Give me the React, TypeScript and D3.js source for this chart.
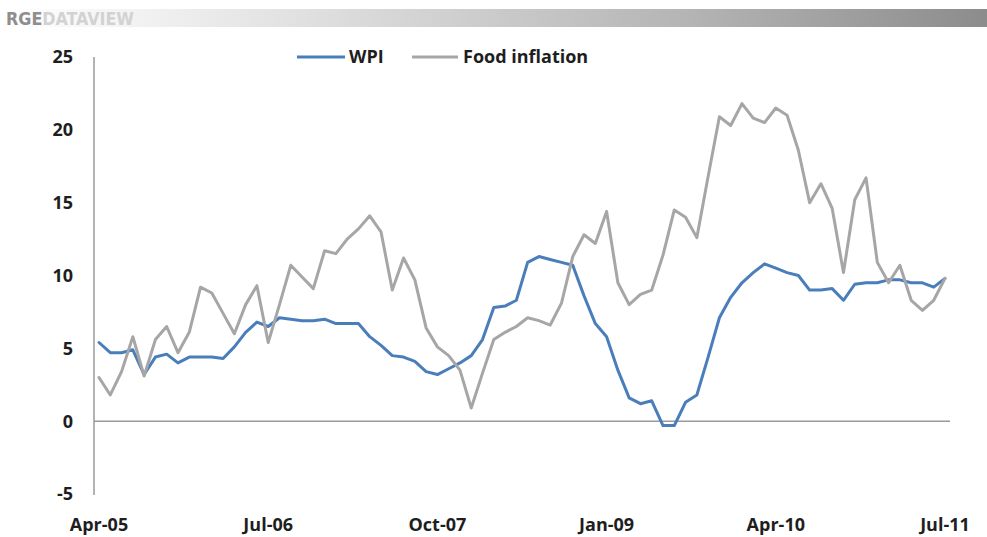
import React from "react";
import * as d3 from "d3";

const months = [
  "Apr-05","May-05","Jun-05","Jul-05","Aug-05","Sep-05","Oct-05","Nov-05","Dec-05",
  "Jan-06","Feb-06","Mar-06","Apr-06","May-06","Jun-06","Jul-06","Aug-06","Sep-06","Oct-06","Nov-06","Dec-06",
  "Jan-07","Feb-07","Mar-07","Apr-07","May-07","Jun-07","Jul-07","Aug-07","Sep-07","Oct-07","Nov-07","Dec-07",
  "Jan-08","Feb-08","Mar-08","Apr-08","May-08","Jun-08","Jul-08","Aug-08","Sep-08","Oct-08","Nov-08","Dec-08",
  "Jan-09","Feb-09","Mar-09","Apr-09","May-09","Jun-09","Jul-09","Aug-09","Sep-09","Oct-09","Nov-09","Dec-09",
  "Jan-10","Feb-10","Mar-10","Apr-10","May-10","Jun-10","Jul-10","Aug-10","Sep-10","Oct-10","Nov-10","Dec-10",
  "Jan-11","Feb-11","Mar-11","Apr-11","May-11","Jun-11","Jul-11",
];

const wpi = [
  5.4, 4.7, 4.7, 4.9, 3.2, 4.4, 4.6, 4.0, 4.4, 4.4,
  4.4, 4.3, 5.1, 6.1, 6.8, 6.5, 7.1, 7.0, 6.9, 6.9,
  7.0, 6.7, 6.7, 6.7, 5.8, 5.2, 4.5, 4.4, 4.1, 3.4,
  3.2, 3.6, 4.0, 4.5, 5.6, 7.8, 7.9, 8.3, 10.9, 11.3,
  11.1, 10.9, 10.7, 8.6, 6.7, 5.8, 3.5, 1.6, 1.2, 1.4,
  -0.3, -0.3, 1.3, 1.8, 4.4, 7.1, 8.5, 9.5, 10.2, 10.8,
  10.5, 10.2, 10.0, 9.0, 9.0, 9.1, 8.3, 9.4, 9.5, 9.5,
  9.7, 9.7, 9.5, 9.5, 9.2, 9.8,
];

const foodInflation = [
  3.0, 1.8, 3.4, 5.8, 3.1, 5.6, 6.5, 4.7, 6.1, 9.2,
  8.8, 7.4, 6.0, 8.0, 9.3, 5.4, 8.0, 10.7, 9.9, 9.1,
  11.7, 11.5, 12.5, 13.2, 14.1, 13.0, 9.0, 11.2, 9.7, 6.4,
  5.1, 4.5, 3.5, 0.9, 3.3, 5.6, 6.1, 6.5, 7.1, 6.9,
  6.6, 8.1, 11.3, 12.8, 12.2, 14.4, 9.5, 8.0, 8.7, 9.0,
  11.4, 14.5, 14.0, 12.6, 16.8, 20.9, 20.3, 21.8, 20.8, 20.5,
  21.5, 21.0, 18.6, 15.0, 16.3, 14.6, 10.2, 15.2, 16.7, 10.9,
  9.5, 10.7, 8.3, 7.6, 8.3, 9.8,
];

const yTicks = [-5, 0, 5, 10, 15, 20, 25];
const xTickLabels = ["Apr-05", "Jul-06", "Oct-07", "Jan-09", "Apr-10", "Jul-11"];

const seriesNames = ["WPI", "Food inflation"];
const seriesColors = ["#4a7ebb", "#a6a6a6"];

const W = 987;
const H = 537;
const FONT = "'Open Sans', 'DejaVu Sans', sans-serif";

export default function App() {
  const x = d3.scaleLinear().domain([0, months.length - 1]).range([99, 945]);
  const y = d3.scaleLinear().domain([-5, 25]).range([494, 57]);
  const line = d3
    .line<number>()
    .x((_, i) => x(i))
    .y((d) => y(d));

  const series = [wpi, foodInflation];

  return (
    <div style={{ position: "fixed", left: 0, top: 0, width: W, height: H, background: "#fff" }}>
      <svg width={W} height={H} viewBox={`0 0 ${W} ${H}`} style={{ display: "block" }}>
        <defs>
          <linearGradient id="hdr" x1="0" x2="1" y1="0" y2="0">
            <stop offset="0" stopColor="#ffffff" />
            <stop offset="0.12" stopColor="#f4f4f4" />
            <stop offset="0.4" stopColor="#d6d6d6" />
            <stop offset="0.7" stopColor="#b4b4b4" />
            <stop offset="1" stopColor="#8c8c8c" />
          </linearGradient>
        </defs>
        <rect x={0} y={0} width={W} height={H} fill="#fff" />
        <rect x={0} y={9} width={W} height={18} fill="url(#hdr)" />
        <text
          x={6}
          y={25}
          fontFamily="'Liberation Sans Narrow', 'DejaVu Sans Condensed', 'Liberation Sans', sans-serif"
          fontWeight={700}
          fontSize={17}
          textLength={128}
          lengthAdjust="spacingAndGlyphs"
        >
          <tspan fill="#8e8e8e">RGE</tspan>
          <tspan fill="#d2d2d2">DATAVIEW</tspan>
        </text>

        {/* axes */}
        <line x1={94} x2={94} y1={57} y2={495} stroke="#9a9a9a" strokeWidth={1.5} />
        <line x1={94} x2={950} y1={y(0)} y2={y(0)} stroke="#9a9a9a" strokeWidth={1.5} />

        {yTicks.map((t) => (
          <text
            key={t}
            x={73}
            y={y(t)}
            dy="0.36em"
            textAnchor="end"
            fontFamily={FONT}
            fontWeight={700}
            fontSize={18}
            fill="#1e1e1e"
          >
            {t}
          </text>
        ))}

        {xTickLabels.map((lab) => {
          const i = months.indexOf(lab);
          return (
            <text
              key={lab}
              x={x(i)}
              y={531}
              textAnchor="middle"
              fontFamily={FONT}
              fontWeight={700}
              fontSize={18}
              fill="#1e1e1e"
            >
              {lab}
            </text>
          );
        })}

        {series.map((s, k) => (
          <path
            key={seriesNames[k]}
            d={line(s) || ""}
            fill="none"
            stroke={seriesColors[k]}
            strokeWidth={3}
            strokeLinejoin="round"
            strokeLinecap="round"
          />
        ))}

        {/* legend */}
        <g fontFamily={FONT} fontWeight={700} fontSize={18} fill="#1e1e1e">
          <line x1={297} x2={345} y1={57} y2={57} stroke={seriesColors[0]} strokeWidth={3} />
          <text x={349} y={57} dy="0.36em">{seriesNames[0]}</text>
          <line x1={412} x2={458} y1={57} y2={57} stroke={seriesColors[1]} strokeWidth={3} />
          <text x={463} y={57} dy="0.36em">{seriesNames[1]}</text>
        </g>
      </svg>
    </div>
  );
}
